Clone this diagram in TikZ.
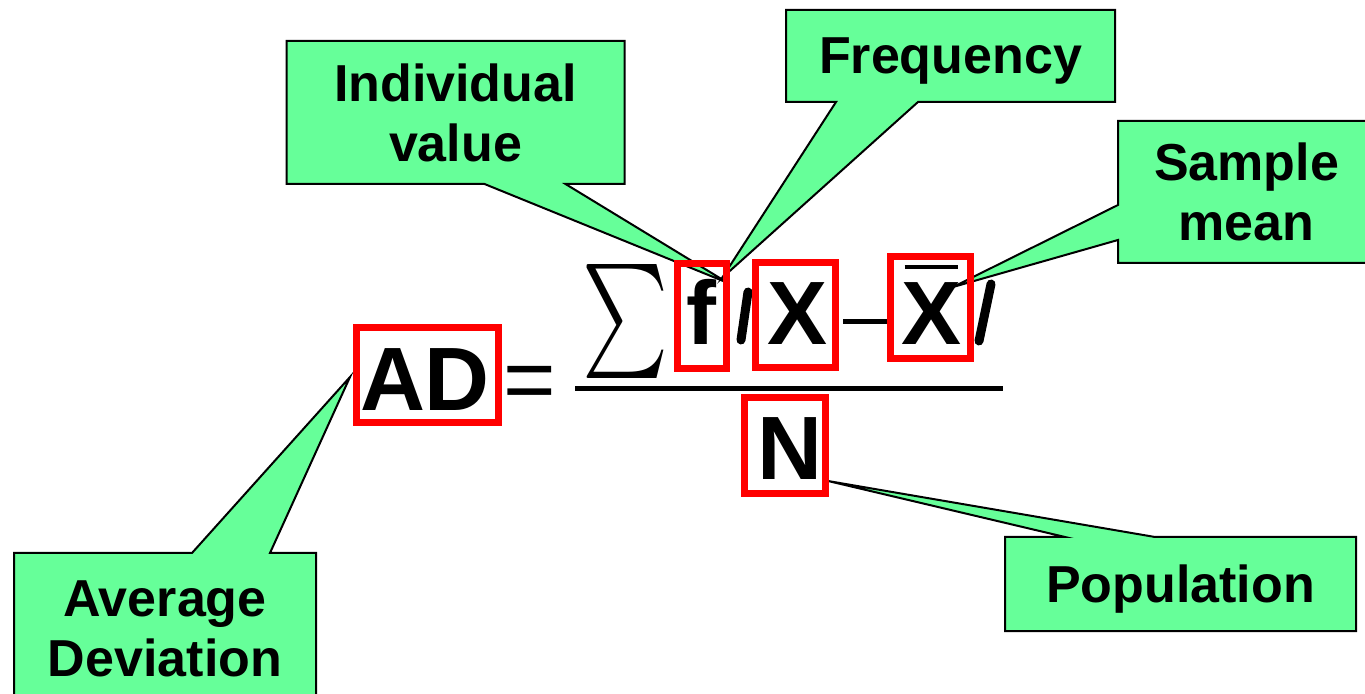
\documentclass[tikz,border=0pt]{standalone}
\usepackage{fontspec}
\setmainfont{Liberation Sans}
\usepackage{graphicx}
\usetikzlibrary{calc,backgrounds}
\definecolor{callgreen}{HTML}{66FF99}
\definecolor{markred}{HTML}{FF0000}
\tikzset{
  callout/.style={fill=callgreen,draw=black,line width=1pt,line join=miter},
  calltext/.style={font=\bfseries\fontsize{26}{30}\selectfont,align=center,
    inner sep=0pt,outer sep=0pt,text depth=0pt},
  markbox/.style={draw=markred,line width=3.5pt,inner sep=0pt},
  symbol/.style={font=\bfseries\fontsize{45}{54}\selectfont,inner sep=0pt,anchor=base},
  bar/.style={line width=4.5pt,line cap=round}
}

\begin{document}
\begin{tikzpicture}[x=.5pt,y=-.5pt]
\useasboundingbox (0,0) rectangle (1365,694);
% the formula
\node[markbox,minimum width=71pt,minimum height=47.5pt] (adbox) at (427.5,375) {};
\node[symbol] (ad) at (425,411) {AD};
\node[font=\fontsize{45}{54}\selectfont,inner sep=0pt] (eq) at (530,388) {=};
\node[inner sep=0pt] (sum) at (625,322) {\resizebox*{43pt}{57pt}{$\sum$}};
\node[markbox,minimum width=24.5pt,minimum height=52.5pt] (fbox) at (702,316) {};
\node[symbol] (f) at (701,345) {f};
\draw[bar] (741,340) -- (748,292);
\node[markbox,minimum width=40pt,minimum height=52.5pt] (xbox) at (795.5,315) {};
\node[symbol] (x) at (798,345) {X};
\draw[line width=2.5pt] (843,322) -- (888,322);
\node[markbox,minimum width=40pt,minimum height=51pt] (xbarbox) at (930.5,307.5) {};
\node[symbol] (xbar) at (932,345) {X};
\draw[line width=2pt] ($(xbar.north west)+(3,-15.5)$) -- ($(xbar.north east)+(-4,-15.5)$);
\draw[bar] (979,341) -- (991,284);
\draw[line width=2.5pt] (575,389) -- (1003,389);
\node[markbox,minimum width=40.5pt,minimum height=48pt] (nbox) at (785,445.5) {};
\node[symbol] (n) at (789.5,480) {N};

% callout tips
\coordinate (ivtip) at (728,283);
\coordinate (frtip) at (722,278);
\coordinate (smtip) at (953,287);
\coordinate (potip) at (828,481);
\coordinate (adtip) at (350,377);

% callouts
\node[calltext,minimum width=169pt,minimum height=71.5pt] (ival) at (455.5,112.5) {Individual\\value};
\node[calltext,minimum width=164.5pt,minimum height=46pt] (freq) at (950.5,56) {Frequency};
\node[calltext,minimum width=128.5pt,minimum height=71pt] (smean) at (1246.5,192) {Sample\\mean};
\node[calltext,minimum width=175.5pt,minimum height=47pt] (pop) at (1180.5,584) {Population};
\node[calltext,minimum width=151pt,minimum height=76pt] (avg) at (165,629) {Average\\Deviation};

\begin{scope}[on background layer]
\draw[callout] (ival.north west) -- (ival.north east) -- (ival.south east)
  -- ($(ival.south west)+(279,0)$) -- (ivtip) -- ($(ival.south west)+(198,0)$)
  -- (ival.south west) -- cycle;
\draw[callout] (freq.north west) -- (freq.north east) -- (freq.south east)
  -- ($(freq.south west)+(132,0)$) -- (frtip) -- ($(freq.south west)+(50,0)$)
  -- (freq.south west) -- cycle;
\draw[callout] (smean.north west) -- (smean.north east) -- (smean.south east)
  -- (smean.south west) -- ($(smean.north west)+(0,119)$) -- (smtip)
  -- ($(smean.north west)+(0,84)$) -- cycle;
\draw[callout] (pop.north west) -- ($(pop.north west)+(60,0)$) -- (potip)
  -- ($(pop.north west)+(150,0)$) -- (pop.north east) -- (pop.south east)
  -- (pop.south west) -- cycle;
\draw[callout] (avg.north west) -- ($(avg.north west)+(178,0)$) -- (adtip)
  -- ($(avg.north west)+(256,0)$) -- (avg.north east) -- (avg.south east)
  -- (avg.south west) -- cycle;
\end{scope}
\end{tikzpicture}
\end{document}
